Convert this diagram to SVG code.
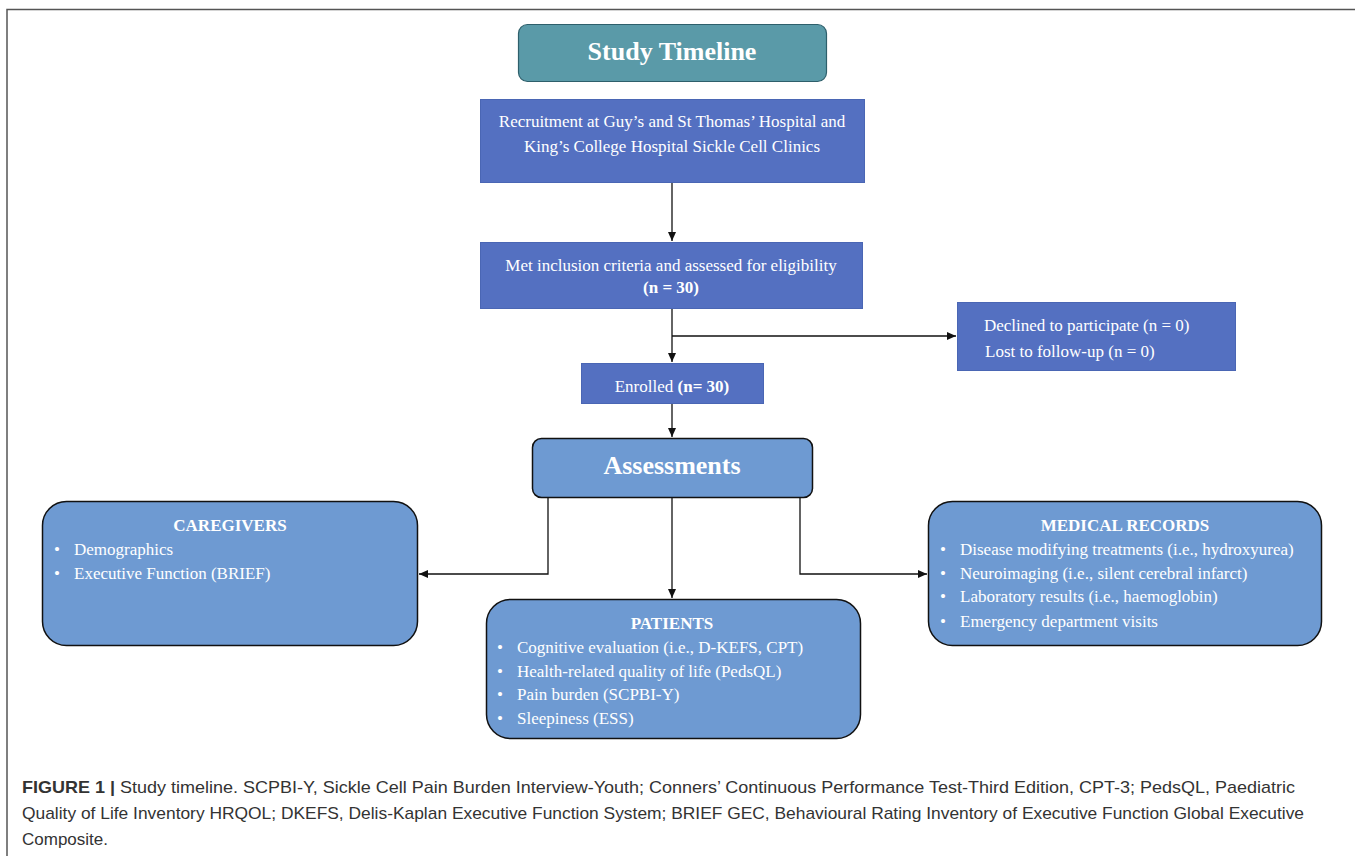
<svg xmlns="http://www.w3.org/2000/svg" width="1355" height="856" viewBox="0 0 1355 856">
<style>
.serif{font-family:"Liberation Serif","Times New Roman",serif;fill:#fff}
.t17{font-size:17px}
.b{font-weight:bold}
.dark{fill:#5470c1;stroke:#4a66b4;stroke-width:1}
.light{fill:#6e9ad2;stroke:#111;stroke-width:1.5}
.conn{fill:none;stroke:#111;stroke-width:1.3}
.cap{font-family:"Liberation Sans",Arial,sans-serif;font-size:17px;fill:#333}
</style>
<defs>
<marker id="ah" markerWidth="10" markerHeight="10" refX="9" refY="5" orient="auto" markerUnits="userSpaceOnUse">
<path d="M0,1 L9,5 L0,9 Z" fill="#111"/>
</marker>
</defs>
<rect x="0" y="0" width="1355" height="856" fill="#fff"/>
<path d="M7,856 V9.5 H1355" fill="none" stroke="#555" stroke-width="1.5"/>

<g id="title">
<rect x="518.5" y="24.5" width="308" height="57" rx="9" fill="#5a9aa8" stroke="#2e5f6b" stroke-width="1.2"/>
<text x="672" y="60" text-anchor="middle" class="serif b" font-size="26">Study Timeline</text>
</g>

<g id="recruitment">
<rect x="480.5" y="99.5" width="384" height="83" class="dark"/>
<text x="672" y="127" text-anchor="middle" class="serif t17">Recruitment at Guy’s and St Thomas’ Hospital and</text>
<text x="672" y="152" text-anchor="middle" class="serif t17">King’s College Hospital Sickle Cell Clinics</text>
</g>

<g id="eligibility">
<rect x="480.5" y="242.5" width="382" height="66" class="dark"/>
<text x="671" y="271" text-anchor="middle" class="serif t17">Met inclusion criteria and assessed for eligibility</text>
<text x="671" y="293" text-anchor="middle" class="serif t17 b">(n = 30)</text>
</g>

<g id="excluded">
<rect x="957.5" y="302.5" width="278" height="68" class="dark"/>
<text x="984" y="331" class="serif t17">Declined to participate (n = 0)</text>
<text x="985" y="357" class="serif t17">Lost to follow-up (n = 0)</text>
</g>

<g id="enrolled">
<rect x="581.5" y="363.5" width="182" height="40" class="dark"/>
<text x="672" y="392" text-anchor="middle" class="serif t17">Enrolled <tspan class="b">(n= 30)</tspan></text>
</g>

<g id="assessments">
<rect x="532.5" y="438.5" width="280" height="59" rx="9" class="light"/>
<text x="672" y="474" text-anchor="middle" class="serif b" font-size="26">Assessments</text>
</g>

<g id="caregivers">
<rect x="42.5" y="501.5" width="375" height="144" rx="24" class="light"/>
<text x="230" y="531" text-anchor="middle" class="serif t17 b">CAREGIVERS</text>
<text x="54" y="555" class="serif t17">•</text><text x="74" y="555" class="serif t17">Demographics</text>
<text x="54" y="579" class="serif t17">•</text><text x="74" y="579" class="serif t17">Executive Function (BRIEF)</text>
</g>

<g id="patients">
<rect x="486.5" y="599.5" width="374" height="139" rx="24" class="light"/>
<text x="672" y="629" text-anchor="middle" class="serif t17 b">PATIENTS</text>
<text x="497" y="653" class="serif t17">•</text><text x="517" y="653" class="serif t17">Cognitive evaluation (i.e., D-KEFS, CPT)</text>
<text x="497" y="677" class="serif t17">•</text><text x="517" y="677" class="serif t17">Health-related quality of life (PedsQL)</text>
<text x="497" y="700" class="serif t17">•</text><text x="517" y="700" class="serif t17">Pain burden (SCPBI-Y)</text>
<text x="497" y="724" class="serif t17">•</text><text x="517" y="724" class="serif t17">Sleepiness (ESS)</text>
</g>

<g id="medical">
<rect x="928.5" y="501.5" width="393" height="144" rx="24" class="light"/>
<text x="1125" y="531" text-anchor="middle" class="serif t17 b">MEDICAL RECORDS</text>
<text x="940" y="555" class="serif t17">•</text><text x="960" y="555" class="serif t17">Disease modifying treatments (i.e., hydroxyurea)</text>
<text x="940" y="579" class="serif t17">•</text><text x="960" y="579" class="serif t17">Neuroimaging (i.e., silent cerebral infarct)</text>
<text x="940" y="602" class="serif t17">•</text><text x="960" y="602" class="serif t17">Laboratory results (i.e., haemoglobin)</text>
<text x="940" y="627" class="serif t17">•</text><text x="960" y="627" class="serif t17">Emergency department visits</text>
</g>

<g id="connectors">
<path class="conn" d="M672,183 V241" marker-end="url(#ah)"/>
<path class="conn" d="M672,309 V362" marker-end="url(#ah)"/>
<path class="conn" d="M672,336 H956" marker-end="url(#ah)"/>
<path class="conn" d="M672,404 V437" marker-end="url(#ah)"/>
<path class="conn" d="M548,498 V574 H419" marker-end="url(#ah)"/>
<path class="conn" d="M672,498 V598" marker-end="url(#ah)"/>
<path class="conn" d="M800,498 V574 H927" marker-end="url(#ah)"/>
</g>

<g id="caption">
<text x="22" y="793" class="cap" textLength="1273" lengthAdjust="spacingAndGlyphs"><tspan font-weight="bold">FIGURE 1</tspan> <tspan font-weight="bold">|</tspan> Study timeline. SCPBI-Y, Sickle Cell Pain Burden Interview-Youth; Conners’ Continuous Performance Test-Third Edition, CPT-3; PedsQL, Paediatric</text>
<text x="22" y="819" class="cap" textLength="1282" lengthAdjust="spacingAndGlyphs">Quality of Life Inventory HRQOL; DKEFS, Delis-Kaplan Executive Function System; BRIEF GEC, Behavioural Rating Inventory of Executive Function Global Executive</text>
<text x="22" y="845" class="cap">Composite.</text>
</g>
</svg>
